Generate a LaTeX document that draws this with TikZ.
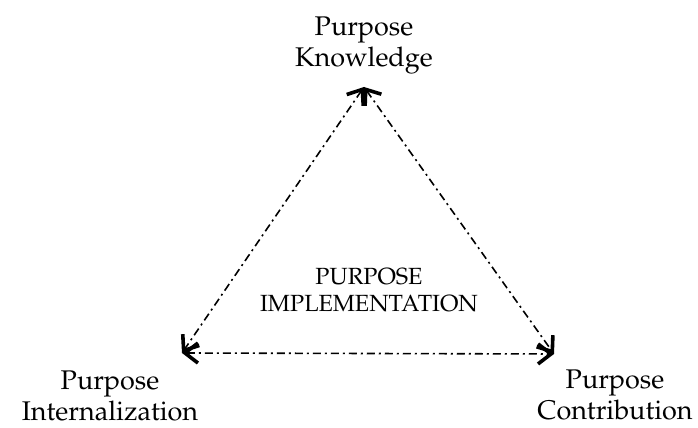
\documentclass[tikz,border=0pt]{standalone}
\usepackage[T1]{fontenc}
\usepackage{mathpazo}
\usetikzlibrary{arrows.meta,positioning}

\begin{document}
\begin{tikzpicture}[>={Straight Barb[length=6.5pt,width=10pt,line width=1.8pt]},
  corner/.style={font=\fontsize{13.5}{15.5}\selectfont,align=center,inner sep=0pt}]
  \useasboundingbox (0,0) rectangle (349pt,214pt);
  \coordinate          (k) at (182pt,170.5pt);
  \coordinate          (i) at (91pt,37.5pt);
  \coordinate          (c) at (277pt,37pt);
  \node[corner]        (K) [above=6pt of k]                 {Purpose\\Knowledge};
  \node[corner]        (I) [below=8.5pt of i,xshift=-36pt]  {Purpose\\Internalization};
  \node[corner]        (C) [below=7.5pt of c,xshift=30.5pt] {Purpose\\Contribution};
  \node[font=\fontsize{11.7}{13.5}\selectfont,align=center,inner sep=0pt]
                       (P) at (184.5pt,69pt)                {PURPOSE\\IMPLEMENTATION};
\tikzset{linkstyle/.style={<->,line width=0.8pt,dash pattern=on 4pt off 2pt on 1pt off 2pt}}
\path (k)    edge [linkstyle]   (i)
      (k)    edge [linkstyle]   (c)
      (i)    edge [linkstyle]   (c);
\end{tikzpicture}
\end{document}
